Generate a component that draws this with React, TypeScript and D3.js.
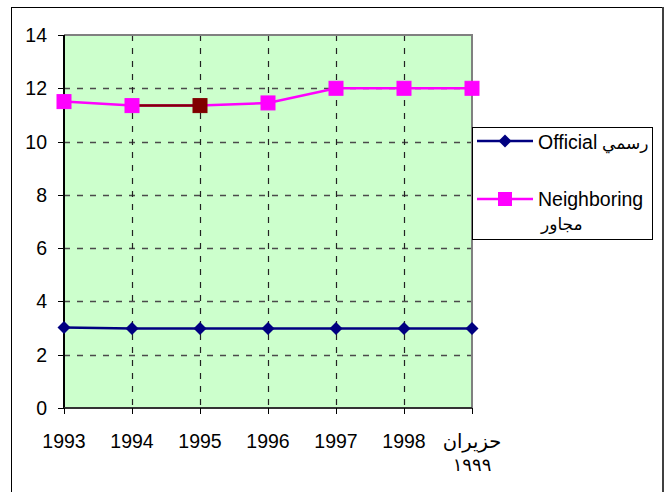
import React from "react";
import * as d3 from "d3";

const categories = ["1993", "1994", "1995", "1996", "1997", "1998", "حزيران|١٩٩٩"];
const official = [3.02, 2.98, 2.98, 2.98, 2.98, 2.98, 2.98];
const neighboring = [11.5, 11.35, 11.35, 11.45, 12, 12, 12];
const neighboringHighlightIndex = 2; // point 1995 and segment 1994-1995 drawn dark red
const yTicks = [0, 2, 4, 6, 8, 10, 12, 14];
const seriesNames = ["Official|رسمي", "Neighboring|مجاور"];

const W = 672;
const H = 492;
const FONT = "'Liberation Sans', Arial, 'DejaVu Sans', sans-serif";

export default function App() {
  const left = 64, right = 472, top = 35, bottom = 408;
  const x = d3.scalePoint<string>().domain(categories).range([left, right]).padding(0);
  const y = d3.scaleLinear().domain([0, 14]).range([bottom, top]);
  const line = d3.line<number>().x((_, i) => x(categories[i])!).y((d) => y(d));

  const diamond = (cx: number, cy: number, r: number) =>
    `M${cx},${cy - r}L${cx + r},${cy}L${cx},${cy + r}L${cx - r},${cy}Z`;

  const hi = neighboringHighlightIndex;
  const legendX = 472, legendY = 127, legendW = 180, legendH = 112;

  return (
    <svg
      width={W}
      height={H}
      style={{ position: "absolute", left: 0, top: 0, display: "block" }}
      fontFamily={FONT}
    >
      <rect x={0} y={0} width={W} height={H} fill="#fff" />
      {/* outer chart frame */}
      <rect x={11.5} y={7.5} width={651} height={H} fill="#fff" stroke="#000" strokeWidth={1} />
      <line x1={663} x2={663} y1={7} y2={H} stroke="#404040" strokeWidth={2} />

      {/* plot area */}
      <rect x={left} y={top} width={right - left} height={bottom - top} fill="#CCFFCC" />
      {/* horizontal grid */}
      {yTicks.filter((t) => t > 0 && t < 14).map((t) => (
        <line key={"h" + t} x1={left} x2={right} y1={Math.round(y(t)) + 0.5} y2={Math.round(y(t)) + 0.5}
          stroke="#4a4a4a" strokeWidth={1.6} strokeDasharray="6,7" />
      ))}
      {/* vertical grid */}
      {categories.slice(1, -1).map((c) => (
        <line key={"v" + c} x1={x(c)! + 0.5} x2={x(c)! + 0.5} y1={top} y2={bottom}
          stroke="#222" strokeWidth={1.2} strokeDasharray="6,7" />
      ))}
      {/* plot border top/right */}
      <path d={`M${left},${top}H${right}V${bottom}`} fill="none" stroke="#808080" strokeWidth={2} />
      {/* axes */}
      <line x1={left} x2={left} y1={top} y2={bottom} stroke="#000" strokeWidth={2} />
      <line x1={left} x2={right} y1={bottom} y2={bottom} stroke="#333" strokeWidth={2} />
      {yTicks.map((t) => (
        <g key={"yt" + t}>
          <line x1={left - 6} x2={left} y1={Math.round(y(t)) + 0.5} y2={Math.round(y(t)) + 0.5} stroke="#000" />
          <text x={47} y={y(t)} dy="0.36em" textAnchor="end" fontSize={19.5} fill="#000">{t}</text>
        </g>
      ))}
      {categories.map((c) => {
        const lines = c.split("|");
        return (
          <g key={"xt" + c}>
            <line x1={x(c)! + 0.5} x2={x(c)! + 0.5} y1={bottom} y2={bottom + 6} stroke="#000" />
            {lines.map((l, i) => (
              <text key={i} x={x(c)!} y={448 + i * 23} textAnchor="middle" fontSize={i === 0 ? 19.5 : 18} fill="#000">{l}</text>
            ))}
          </g>
        );
      })}

      {/* Official series */}
      <path d={line(official)!} fill="none" stroke="#000080" strokeWidth={2.5} />
      {official.map((v, i) => (
        <path key={"o" + i} d={diamond(x(categories[i])!, y(v), 6.5)} fill="#000080" />
      ))}

      {/* Neighboring series */}
      <path d={line(neighboring)!} fill="none" stroke="#FF00FF" strokeWidth={2.5} />
      <path
        d={`M${x(categories[hi - 1])},${y(neighboring[hi - 1])}L${x(categories[hi])},${y(neighboring[hi])}`}
        stroke="#800000" strokeWidth={2.5} fill="none"
      />
      {neighboring.map((v, i) => (
        <rect key={"n" + i} x={x(categories[i])! - 7} y={y(v) - 7} width={14} height={14}
          fill={i === hi ? "#800000" : "#FF00FF"} stroke={i === hi ? "#800000" : "#FF00FF"} strokeWidth={1} />
      ))}

      {/* legend */}
      <rect x={legendX + 0.5} y={legendY + 0.5} width={legendW} height={legendH} fill="#fff" stroke="#000" strokeWidth={1} />
      <line x1={477} x2={533} y1={141} y2={141} stroke="#000080" strokeWidth={2.5} />
      <path d={diamond(505, 141, 6.5)} fill="#000080" />
      <text x={538} y={149} fontSize={19.5} fill="#000">
        {seriesNames[0].split("|")[0]}
        <tspan fontSize={17}>{" " + seriesNames[0].split("|")[1]}</tspan>
      </text>
      <line x1={477} x2={533} y1={199} y2={199} stroke="#FF00FF" strokeWidth={2.5} />
      <rect x={498} y={192} width={14} height={14} fill="#FF00FF" />
      <text x={538} y={206} fontSize={19.5} fill="#000">{seriesNames[1].split("|")[0]}</text>
      <text x={541} y={230} fontSize={17} fill="#000">{seriesNames[1].split("|")[1]}</text>
    </svg>
  );
}
